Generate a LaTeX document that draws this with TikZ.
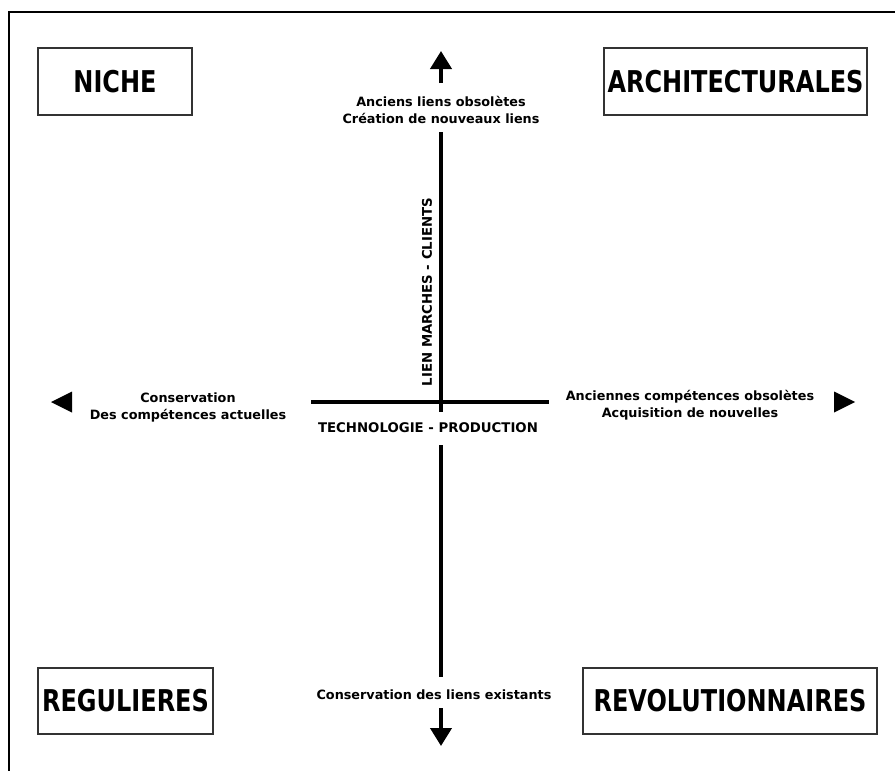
\documentclass[tikz,border=0pt]{standalone}
\usepackage{fontspec}
\setmainfont{DejaVu Sans}
\newfontfamily\bigfont[FakeStretch=0.8]{DejaVu Sans Bold}
\newfontfamily\smallfont{DejaVu Sans Bold}
\usetikzlibrary{arrows.meta}
\tikzset{
  catbox/.style={draw=black!80, line width=1.3pt, fill=white, inner sep=0pt,
    font=\bigfont\fontsize{30}{32}\selectfont},
  lbl/.style={align=center, inner sep=0pt, font=\smallfont\fontsize{12.8}{17}\selectfont},
  caplbl/.style={align=center, inner sep=0pt, font=\smallfont\fontsize{13.3}{17}\selectfont},
  axisline/.style={line width=4pt},
  axisarrow/.style={line width=4pt, -{Triangle[length=18pt,width=21pt]}},
  headtri/.style={fill=black},
  frame/.style={line width=2pt}
}
\begin{document}
\begin{tikzpicture}[x=1pt,y=-1pt]
\useasboundingbox (0,0) rectangle (895,771);
% frame (top and left only)
\draw[frame] (895,12) -- (9,12) -- (9,771);
% category boxes
\node[catbox, minimum width=154pt, minimum height=67pt] (niche) at (115,81.5) {NICHE};
\node[catbox, minimum width=263pt, minimum height=67pt] (archi) at (735.5,81.5) {ARCHITECTURALES};
\node[catbox, minimum width=175pt, minimum height=66pt] (regu) at (125.5,701) {REGULIERES};
\node[catbox, minimum width=294pt, minimum height=66pt] (revo) at (730,701) {REVOLUTIONNAIRES};
% labels
\node[lbl] (toplbl) at (441,109.5) {Anciens liens obsolètes\\Création de nouveaux liens};
\node[lbl] (botlbl) at (434,695) {Conservation des liens existants};
\node[lbl] (leftlbl) at (188,407.5) {Conservation\\Des compétences actuelles};
\node[lbl] (rightlbl) at (690,405.5) {Anciennes compétences obsolètes\\Acquisition de nouvelles};
\node[caplbl] (techlbl) at (428,428) {TECHNOLOGIE - PRODUCTION};
\node[caplbl, rotate=90] (marchlbl) at (427,292) {LIEN MARCHES - CLIENTS};
% axis coordinates
\coordinate (topstart) at (441,83);
\coordinate (toptip) at (441,51);
\coordinate (vtop) at (441,132);
\coordinate (vcross) at (441,412);
\coordinate (vlow) at (441,445);
\coordinate (vbot) at (441,677);
\coordinate (botstart) at (441,708);
\coordinate (bottip) at (441,746);
\coordinate (hleft) at (311,402);
\coordinate (hright) at (549,402);
% axes
\draw[axisarrow] (topstart) -- (toptip);
\draw[axisline] (vtop) -- (vcross);
\draw[axisline] (vlow) -- (vbot);
\draw[axisarrow] (botstart) -- (bottip);
\draw[axisline] (hleft) -- (hright);
% side arrowheads
\fill[headtri] (51,402) -- (72,391.5) -- (72,412.5) -- cycle;
\fill[headtri] (855,402) -- (834,391.5) -- (834,412.5) -- cycle;
\end{tikzpicture}
\end{document}
